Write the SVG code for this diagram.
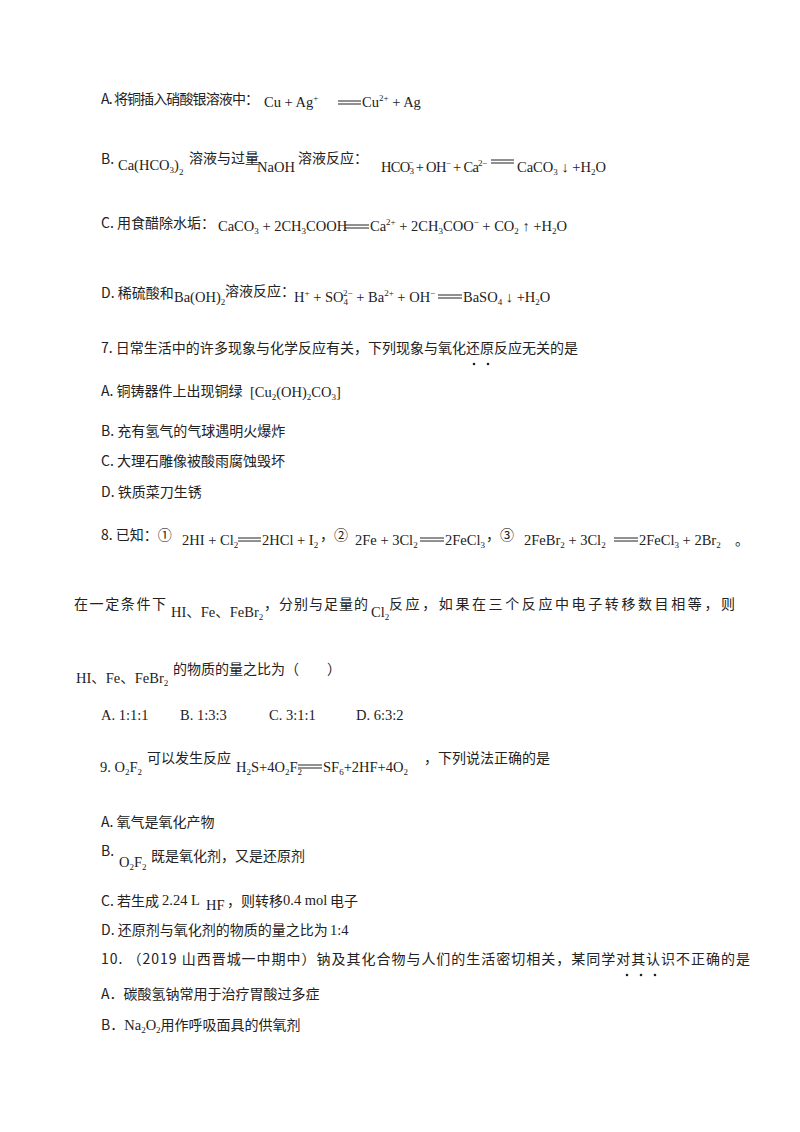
<svg xmlns="http://www.w3.org/2000/svg" width="800" height="1132" viewBox="0 0 800 1132">
<style>
text{font-family:"Noto Sans CJK SC","Liberation Serif",serif;font-size:14px;fill:#222}
.f{font-family:"Liberation Serif","Noto Sans CJK SC",serif;font-size:14.5px}
.s{font-size:9px}
line{stroke:#222;stroke-width:1}
</style>
<rect width="800" height="1132" fill="#fff"/>
<g id="optA">
<text x="101" y="104" textLength="158">A. 将铜插入硝酸银溶液中：</text>
<text class="f" x="264" y="107">Cu + Ag<tspan class="s" dy="-6">+</tspan></text>
<line x1="338" y1="101" x2="361" y2="101"/><line x1="338" y1="104" x2="361" y2="104"/>
<text class="f" x="362" y="107">Cu<tspan class="s" dy="-6">2+</tspan><tspan dy="6"> + Ag</tspan></text>
</g>
<g id="optB">
<text x="101" y="164">B.</text>
<text class="f" x="118" y="170">Ca(HCO<tspan class="s" dy="3">3</tspan><tspan dy="-3">)</tspan><tspan class="s" dy="5">2</tspan></text>
<text x="189" y="163">溶液与过量</text>
<text class="f" x="257" y="172">NaOH</text>
<text x="298" y="163">溶液反应：</text>
<text class="f" x="381" y="172" textLength="106">HCO<tspan class="s" dy="2">3</tspan><tspan class="s" dx="-5" dy="-9">−</tspan><tspan dy="7"> + OH</tspan><tspan class="s" dy="-6">−</tspan><tspan dy="6"> + Ca</tspan><tspan class="s" dy="-6">2−</tspan></text>
<line x1="491" y1="160" x2="514" y2="160"/><line x1="491" y1="163" x2="514" y2="163"/>
<text class="f" x="517" y="172">CaCO<tspan class="s" dy="3">3</tspan><tspan dy="-3"> ↓ +H</tspan><tspan class="s" dy="3">2</tspan><tspan dy="-3">O</tspan></text>
</g>
<g id="optC">
<text x="101" y="228">C. 用食醋除水垢：</text>
<text class="f" x="218" y="231">CaCO<tspan class="s" dy="3">3</tspan><tspan dy="-3"> + 2CH</tspan><tspan class="s" dy="3">3</tspan><tspan dy="-3">COOH</tspan></text>
<line x1="345" y1="225" x2="369" y2="225"/><line x1="345" y1="228" x2="369" y2="228"/>
<text class="f" x="370" y="231">Ca<tspan class="s" dy="-6">2+</tspan><tspan dy="6"> + 2CH</tspan><tspan class="s" dy="3">3</tspan><tspan dy="-3">COO</tspan><tspan class="s" dy="-6">−</tspan><tspan dy="6"> + CO</tspan><tspan class="s" dy="3">2</tspan><tspan dy="-3"> ↑ +H</tspan><tspan class="s" dy="3">2</tspan><tspan dy="-3">O</tspan></text>
</g>
<g id="optD">
<text x="101" y="298">D. 稀硫酸和</text>
<text class="f" x="174" y="302">Ba(OH)<tspan class="s" dy="3">2</tspan></text>
<text x="225" y="296">溶液反应：</text>
<text class="f" x="294" y="302">H<tspan class="s" dy="-6">+</tspan><tspan dy="6"> + SO</tspan><tspan class="s" dy="3">4</tspan><tspan class="s" dx="-5" dy="-9">2−</tspan><tspan dy="6"> + Ba</tspan><tspan class="s" dy="-6">2+</tspan><tspan dy="6"> + OH</tspan><tspan class="s" dy="-6">−</tspan></text>
<line x1="438" y1="295" x2="462" y2="295"/><line x1="438" y1="298" x2="462" y2="298"/>
<text class="f" x="463" y="302">BaSO<tspan class="s" dy="3">4</tspan><tspan dy="-3"> ↓ +H</tspan><tspan class="s" dy="3">2</tspan><tspan dy="-3">O</tspan></text>
</g>
<g id="q7">
<text x="101" y="353" textLength="477">7. 日常生活中的许多现象与化学反应有关，下列现象与氧化还原反应无关的是</text>
<circle cx="474" cy="364" r="1.3" fill="#222"/><circle cx="488" cy="364" r="1.3" fill="#222"/>
<text x="101" y="396">A. 铜铸器件上出现铜绿</text>
<text class="f" x="250" y="397">[Cu<tspan class="s" dy="3">2</tspan><tspan dy="-3">(OH)</tspan><tspan class="s" dy="3">2</tspan><tspan dy="-3">CO</tspan><tspan class="s" dy="3">3</tspan><tspan dy="-3">]</tspan></text>
<text x="101" y="436">B. 充有氢气的气球遇明火爆炸</text>
<text x="101" y="466">C. 大理石雕像被酸雨腐蚀毁坏</text>
<text x="101" y="497">D. 铁质菜刀生锈</text>
</g>
<g id="q8">
<text x="101" y="540">8. 已知：①</text>
<text class="f" x="182" y="545">2HI + Cl<tspan class="s" dy="3">2</tspan></text>
<line x1="238" y1="538" x2="261" y2="538"/><line x1="238" y1="541" x2="261" y2="541"/>
<text class="f" x="262" y="545">2HCl + I<tspan class="s" dy="3">2</tspan></text>
<text x="320" y="540">，②</text>
<text class="f" x="355" y="545">2Fe + 3Cl<tspan class="s" dy="3">2</tspan></text>
<line x1="420" y1="538" x2="444" y2="538"/><line x1="420" y1="541" x2="444" y2="541"/>
<text class="f" x="445" y="545">2FeCl<tspan class="s" dy="3">3</tspan></text>
<text x="486" y="540">，③</text>
<text class="f" x="524" y="545">2FeBr<tspan class="s" dy="3">2</tspan><tspan dy="-3"> + 3Cl</tspan><tspan class="s" dy="3">2</tspan></text>
<line x1="614" y1="538" x2="638" y2="538"/><line x1="614" y1="541" x2="638" y2="541"/>
<text class="f" x="639" y="545">2FeCl<tspan class="s" dy="3">3</tspan><tspan dy="-3"> + 2Br</tspan><tspan class="s" dy="3">2</tspan></text>
<text x="735" y="545">。</text>
<text x="74" y="609" textLength="92">在一定条件下</text>
<text class="f" x="171" y="617">HI、Fe、FeBr<tspan class="s" dy="3">2</tspan></text>
<text x="264" y="609" textLength="104">，分别与足量的</text>
<text class="f" x="371" y="617">Cl<tspan class="s" dy="3">2</tspan></text>
<text x="389" y="609" textLength="346">反应，如果在三个反应中电子转移数目相等，则</text>
<text class="f" x="76" y="683">HI、Fe、FeBr<tspan class="s" dy="3">2</tspan></text>
<text x="173" y="674">的物质的量之比为（　　）</text>
<text class="f" x="101" y="720">A. 1:1:1</text>
<text class="f" x="180" y="720">B.  1:3:3</text>
<text class="f" x="269" y="720">C.  3:1:1</text>
<text class="f" x="356" y="720">D.  6:3:2</text>
</g>
<g id="q9">
<text class="f" x="100" y="772">9.  O<tspan class="s" dy="3">2</tspan><tspan dy="-3">F</tspan><tspan class="s" dy="3">2</tspan></text>
<text x="147" y="763">可以发生反应</text>
<text class="f" x="236" y="772">H<tspan class="s" dy="3">2</tspan><tspan dy="-3">S+4O</tspan><tspan class="s" dy="3">2</tspan><tspan dy="-3">F</tspan><tspan class="s" dy="3">2</tspan></text>
<line x1="298" y1="765" x2="322" y2="765"/><line x1="298" y1="768" x2="322" y2="768"/>
<text class="f" x="323" y="772">SF<tspan class="s" dy="3">6</tspan><tspan dy="-3">+2HF+4O</tspan><tspan class="s" dy="3">2</tspan></text>
<text x="424" y="763">，下列说法正确的是</text>
<text x="101" y="827">A. 氧气是氧化产物</text>
<text x="101" y="856">B.</text>
<text class="f" x="119" y="867">O<tspan class="s" dy="3">2</tspan><tspan dy="-3">F</tspan><tspan class="s" dy="3">2</tspan></text>
<text x="151" y="861">既是氧化剂，又是还原剂</text>
<text x="101" y="906">C. 若生成</text>
<text class="f" x="162" y="905">2.24 L</text>
<text class="f" x="206" y="910">HF</text>
<text x="227" y="906">，则转移</text>
<text class="f" x="283" y="905">0.4 mol</text>
<text x="330" y="906">电子</text>
<text x="101" y="935">D. 还原剂与氧化剂的物质的量之比为</text>
<text class="f" x="330" y="935">1:4</text>
</g>
<g id="q10">
<text x="101" y="964" textLength="649">10. （2019 山西晋城一中期中）钠及其化合物与人们的生活密切相关，某同学对其认识不正确的是</text>
<circle cx="627" cy="975" r="1.3" fill="#222"/><circle cx="641" cy="975" r="1.3" fill="#222"/><circle cx="655" cy="975" r="1.3" fill="#222"/>
<text x="101" y="999">A．碳酸氢钠常用于治疗胃酸过多症</text>
<text x="101" y="1030">B．<tspan class="f">Na<tspan class="s" dy="3">2</tspan><tspan dy="-3">O</tspan><tspan class="s" dy="3">2</tspan></tspan><tspan dy="-3">用作呼吸面具的供氧剂</tspan></text>
</g>
</svg>
